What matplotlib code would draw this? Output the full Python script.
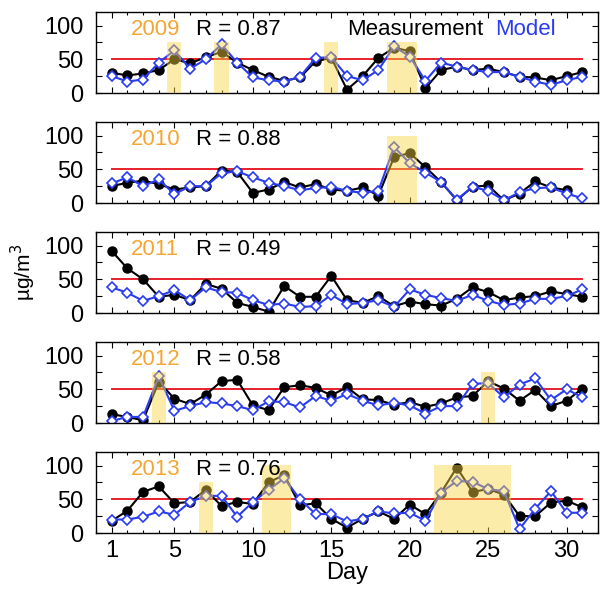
import matplotlib

matplotlib.use("Agg")
import matplotlib.pyplot as plt  # noqa: E402
from matplotlib.ticker import MultipleLocator, FixedLocator  # noqa: E402

plt.rcParams["font.family"] = ["Liberation Sans", "DejaVu Sans"]

DAYS = list(range(1, 32))
YEARS = ["2009", "2010", "2011", "2012", "2013"]
R_VALUES = ["0.87", "0.88", "0.49", "0.58", "0.76"]

MEAS_2009 = [30, 26, 29, 34, 50, 44, 53, 61, 45, 34, 24, 18, 23, 47, 52, 5,
             25, 52, 67, 62, 7, 34, 39, 34, 36, 31, 24, 23, 19, 25, 31]
MODEL_2009 = [25, 17, 20, 45, 63, 36, 50, 72, 45, 23, 19, 17, 24, 52, 53, 25,
              19, 34, 69, 54, 18, 45, 39, 34, 31, 31, 24, 17, 12, 19, 24]

MEAS_2010 = [25, 30, 33, 28, 20, 23, 25, 48, 46, 15, 20, 31, 23, 28, 20, 18,
             23, 11, 68, 74, 53, 31, 4, 24, 26, 4, 14, 32, 23, 19, None]
MODEL_2010 = [29, 38, 25, 35, 13, 25, 25, 44, 47, 38, 30, 25, 19, 22, 24, 18,
              15, 18, 83, 59, 45, 31, 5, 24, 18, 4, 16, 22, 23, 14, 7]

MEAS_2011 = [92, 66, 50, 24, 27, 19, 43, 36, 15, 9, 2, 40, 24, 24, 55, 19,
             15, 25, 10, 17, 13, 11, 21, 38, 31, 19, 23, 25, 32, 28, 24]
MODEL_2011 = [38, 30, 18, 25, 34, 19, 38, 31, 30, 19, 12, 14, 9, 10, 27, 13,
              15, 19, 9, 35, 27, 22, 18, 27, 18, 12, 14, 21, 21, 25, 35]

MEAS_2012 = [13, 9, 4, 61, 36, 28, 42, 62, 64, 26, 19, 53, 56, 52, 41, 53,
             35, 34, 27, 31, 24, 29, 38, 40, 62, 51, 33, 49, 25, 33, 51]
MODEL_2012 = [3, 9, 9, 69, 18, 25, 31, 29, 25, 19, 32, 31, 23, 40, 33, 43,
              33, 26, 30, 26, 14, 25, 25, 58, 59, 38, 57, 66, 34, 50, 38]

MEAS_2013 = [18, 33, 61, 69, 44, 46, 64, 40, 46, 43, 75, 86, 41, 44, 21, 8,
             21, 32, 21, 42, 28, 60, 97, 61, 65, 57, 25, 25, 45, 48, 38]
MODEL_2013 = [20, 20, 24, 32, 27, 46, 55, 55, 24, 46, 64, 81, 50, 28, 28, 17,
              21, 32, 29, 30, 18, 60, 77, 76, 65, 62, 6, 36, 62, 30, 30]

MEASUREMENTS = [MEAS_2009, MEAS_2010, MEAS_2011, MEAS_2012, MEAS_2013]
MODELS = [MODEL_2009, MODEL_2010, MODEL_2011, MODEL_2012, MODEL_2013]

# highlighted day ranges (first day, last day, band top)
BANDS = [
    [(5, 5, 75), (8, 8, 75), (15, 15, 75), (19, 20, 75)],
    [(19, 20, 100)],
    [],
    [(4, 4, 75), (25, 25, 75)],
    [(7, 7, 75), (11, 12, 100), (22, 26, 100)],
]
THRESHOLD = 50

BLACK = "#000000"
BLUE = "#2a3cf0"
ORANGE = "#f5a632"
RED = "#e8202a"
YELLOW = "#fad542"
FS = 16

fig = plt.figure(figsize=(6.08, 5.91), dpi=100)
W, H = 608, 591
left, width = 96 / W, 502 / W
bottoms = [93, 203, 313, 423, 533]

axes = []
for i, b in enumerate(bottoms):
    ax = fig.add_axes([left, 1 - b / H, width, 81 / H])
    axes.append(ax)
    x = DAYS
    ax.plot([1, 31], [THRESHOLD, THRESHOLD], color=RED, lw=1.4, zorder=1)
    meas = [(d, v) for d, v in zip(x, MEASUREMENTS[i]) if v is not None]
    ax.plot([d for d, _ in meas], [v for _, v in meas], color=BLACK, lw=1.5,
            marker="o", ms=6.5, mfc=BLACK, mec=BLACK, zorder=2)
    ax.plot(x, MODELS[i], color=BLUE, lw=1.5, marker="D", ms=5.3, mfc="white",
            mec=BLUE, mew=1.2, zorder=2.5)
    for d0, d1, top in BANDS[i]:
        ax.fill_between([d0 - 0.45, d1 + 0.45], 0, top, color=YELLOW,
                        alpha=0.45, lw=0, zorder=3)

    ax.set_xlim(0, 32)
    ax.set_ylim(0, 120)
    ax.xaxis.set_major_locator(FixedLocator([1, 5, 10, 15, 20, 25, 30]))
    ax.xaxis.set_minor_locator(MultipleLocator(1))
    ax.yaxis.set_major_locator(FixedLocator([0, 50, 100]))
    ax.yaxis.set_minor_locator(FixedLocator([25, 75]))
    ax.tick_params(which="both", direction="in", top=True, right=True,
                   labelsize=17, width=0.8)
    ax.tick_params(which="major", length=4)
    ax.tick_params(which="minor", length=2.5)
    ax.tick_params(axis="y", which="minor", length=4)
    ax.tick_params(axis="y", pad=9)
    ax.tick_params(axis="x", pad=5)
    for s in ax.spines.values():
        s.set_linewidth(1.0)
    if i < 4:
        ax.set_xticklabels([])

    ax.text(0.07, 0.79, YEARS[i], transform=ax.transAxes, color=ORANGE,
            fontsize=FS, va="center", ha="left")
    ax.text(0.20, 0.79, f"R = {R_VALUES[i]}", transform=ax.transAxes,
            color=BLACK, fontsize=FS, va="center", ha="left")

axes[0].text(0.50, 0.79, "Measurement", transform=axes[0].transAxes,
             color=BLACK, fontsize=FS, va="center", ha="left")
axes[0].text(0.795, 0.79, "Model", transform=axes[0].transAxes,
             color=BLUE, fontsize=FS, va="center", ha="left")

axes[-1].set_xlabel("Day", fontsize=17, labelpad=0)
fig.text(0.038, 1 - 272 / H, "µg/m$^3$", rotation=90, fontsize=15,
         va="center", ha="center")

fig.savefig("out.png", dpi=100)
